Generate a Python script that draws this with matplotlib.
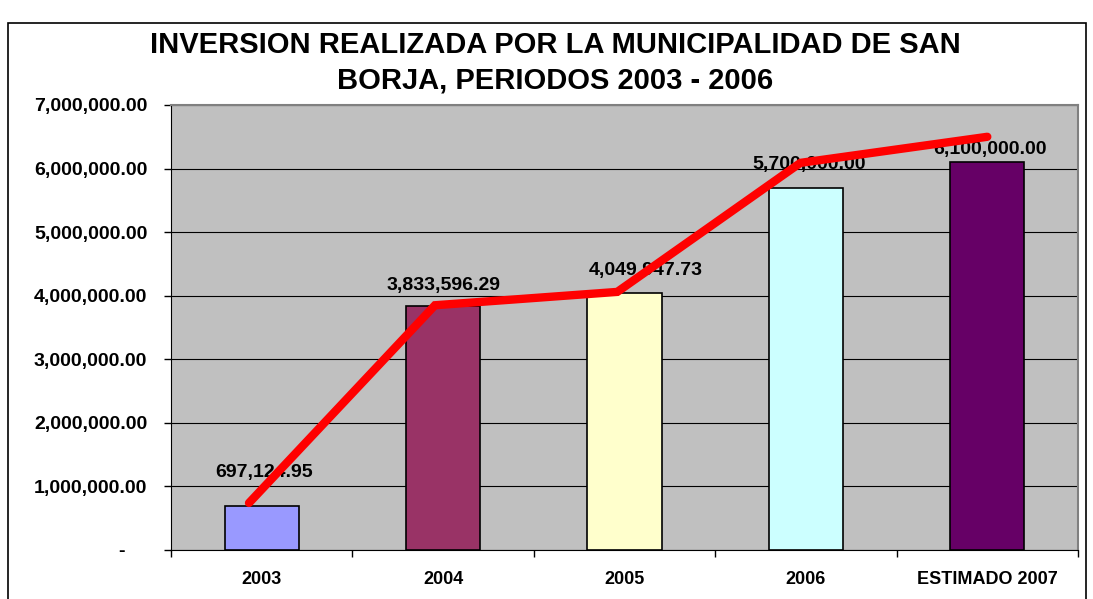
import matplotlib
matplotlib.use("Agg")
import matplotlib.pyplot as plt
from matplotlib.patches import Rectangle
from matplotlib.ticker import FuncFormatter, MultipleLocator
import numpy as np

plt.rcParams['font.family'] = ['Liberation Sans', 'DejaVu Sans']

categories = ["2003", "2004", "2005", "2006", "ESTIMADO 2007"]
bar_values = [697124.95, 3833596.29, 4049947.73, 5700000.00, 6100000.00]
bar_labels = ["697,124.95", "3,833,596.29", "4,049,947.73", "5,700,000.00", "6,100,000.00"]
line_values = [740000, 3850000, 4060000, 6090000, 6500000]
bar_colors = ["#9999FF", "#993366", "#FFFFCC", "#CCFFFF", "#660066"]
title = "INVERSION REALIZADA POR LA MUNICIPALIDAD DE SAN\nBORJA, PERIODOS 2003 - 2006"

# label offsets in points (dx, dy) relative to bar top
label_offsets = [(2, 24), (0, 15), (15, 16), (2, 17), (2, 9)]
line_dx = [-0.07, -0.045, -0.04, -0.03, 0.0]

W, H = 1093, 599
fig = plt.figure(figsize=(W / 100, H / 100), dpi=100)
fig.patch.set_facecolor("white")

# outer frame
fig.patches.append(Rectangle((8 / W, -0.02), (1086 - 8) / W, (H - 23) / H + 0.02,
                             transform=fig.transFigure, fill=False,
                             edgecolor="black", linewidth=1.2))

ax = fig.add_axes([171 / W, (H - 550) / H, (1078 - 171) / W, (550 - 105) / H])
ax.set_facecolor("#C0C0C0")

x = np.arange(len(categories)) + 0.5
ax.bar(x, bar_values, width=0.41, color=bar_colors, edgecolor="black",
       linewidth=1.2, zorder=3)

for xi, v, lab, (dx, dy) in zip(x, bar_values, bar_labels, label_offsets):
    ax.annotate(lab, (xi, v), xytext=(dx, dy), textcoords="offset points",
                ha="center", va="center", fontsize=14, fontweight="bold",
                zorder=4)

ax.plot(x + np.array(line_dx), line_values, color="#FF0000", linewidth=6,
        solid_capstyle="round", solid_joinstyle="miter", zorder=5)

ax.set_xlim(0, 5)
ax.set_ylim(0, 7000000)
ax.yaxis.set_major_locator(MultipleLocator(1000000))
ax.yaxis.set_major_formatter(FuncFormatter(
    lambda v, p: "-    " if v == 0 else f"{v:,.2f}"))
ax.grid(axis="y", color="black", linewidth=0.8, zorder=1)

ax.set_xticks(np.arange(0, 6))
ax.set_xticklabels([])
ax.set_xticks(x, minor=True)
ax.set_xticklabels(categories, minor=True)
ax.tick_params(axis="x", which="major", direction="out", length=5, width=1)
ax.tick_params(axis="x", which="minor", length=0, pad=15)
ax.tick_params(axis="y", direction="out", length=5, width=1, pad=12)

for lab in ax.get_xticklabels(minor=True):
    lab.set_fontsize(13)
    lab.set_fontweight("bold")
for lab in ax.get_yticklabels():
    lab.set_fontsize(14)
    lab.set_fontweight("bold")

for s in ["top", "right"]:
    ax.spines[s].set_color("#808080")
    ax.spines[s].set_linewidth(1.5)
ax.spines["left"].set_color("black")
ax.spines["bottom"].set_color("black")

fig.text(555 / W, 1 - 63 / H, title, ha="center", va="center",
         fontsize=21, fontweight="bold", linespacing=1.35)

fig.savefig("out.png", dpi=100)
